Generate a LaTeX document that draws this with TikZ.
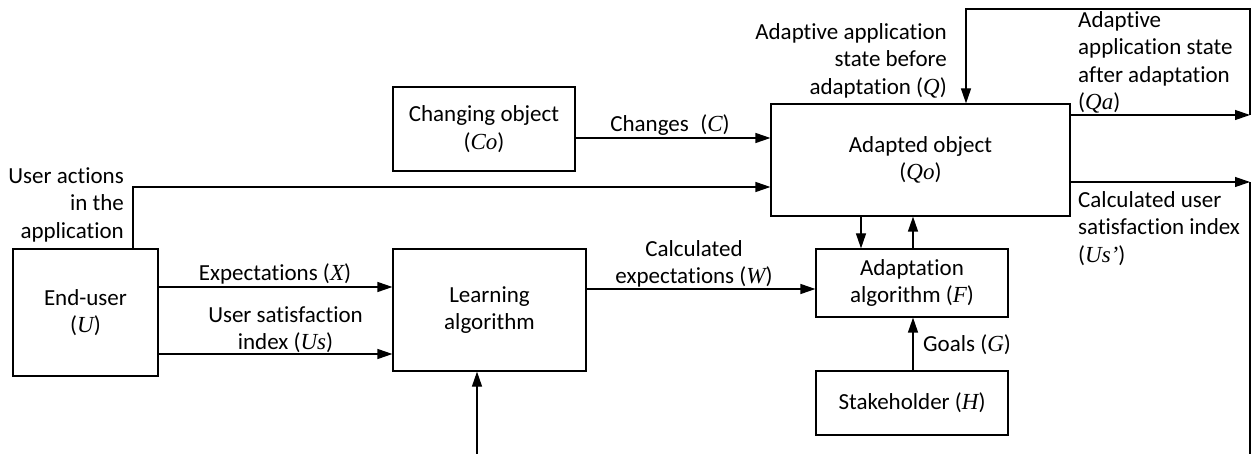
\documentclass[tikz,border=0pt]{standalone}
\usepackage{fontspec}
\setmainfont[Ligatures=NoCommon]{Carlito}
\newfontfamily\varfont{Liberation Serif}
\usetikzlibrary{arrows.meta}
% italic serif symbol for the model variables
\newcommand\mv[1]{{\varfont\itshape #1}}

\begin{document}
\begin{tikzpicture}[x=1pt,y=-1pt,
  lbl/.style={inner sep=0pt, font=\fontsize{23}{27.5}\selectfont},
  block/.style={draw, line width=1.2pt, inner sep=0pt, align=center,
                font=\fontsize{23}{27.5}\selectfont},
  flow/.style={line width=1.2pt, -{Triangle[length=15pt,width=10pt]}},
  wire/.style={line width=1.2pt}]

\useasboundingbox (0,0) rectangle (1253,454);

% blocks
\node[block, minimum width=145pt, minimum height=127pt] (eu)    at (85.5,312.5) {End-user\\(\mv{U})};
\node[block, minimum width=193pt, minimum height=122pt] (learn) at (489.5,310) {Learning\\algorithm};
\node[block, minimum width=182pt, minimum height=84pt]  (chg)   at (484,129)   {Changing object\\(\mv{Co})};
\node[block, minimum width=299pt, minimum height=112pt] (ado)   at (920.5,160) {Adapted object\\(\mv{Qo})};
\node[block, minimum width=192pt, minimum height=68pt]  (ada)   at (912,283)   {Adaptation\\algorithm (\mv{F})};
\node[block, minimum width=192pt, minimum height=64pt]  (stk)   at (912,403)   {Stakeholder (\mv{H})};

% helper points for bends and open ends
\coordinate (ua)     at (133,187);
\coordinate (ex)     at (0,287);
\coordinate (us)     at (0,354);
\coordinate (cw)     at (0,289);
\coordinate (cc)     at (0,138);
\coordinate (dn)     at (861,0);
\coordinate (up)     at (913,0);
\coordinate (qaEnd)  at (1250,115);
\coordinate (loopR)  at (1250,9);
\coordinate (loopL)  at (966,9);
\coordinate (usEnd)  at (1250,182);
\coordinate (usDown) at (1250,454);
\coordinate (lin)    at (477,454);

% connectors
\draw[flow] (eu.east |- ex) -- (learn.west |- ex);
\draw[flow] (eu.east |- us) -- (learn.west |- us);
\draw[flow] (learn.east |- cw) -- (ada.west |- cw);
\draw[flow] (chg.east |- cc) -- (ado.west |- cc);
\draw[flow] (eu.north -| ua) -- (ua) -- (ado.west |- ua);
\draw[flow] (ado.south -| dn) -- (ada.north -| dn);
\draw[flow] (ada.north -| up) -- (ado.south -| up);
\draw[flow] (stk.north -| up) -- (ada.south -| up);
\draw[flow] (ado.east |- qaEnd) -- (qaEnd);
\draw[flow] (qaEnd) -- (loopR) -- (loopL) -- (ado.north -| loopL);
\draw[flow] (ado.east |- usEnd) -- (usEnd);
\draw[wire] (usEnd) -- (usDown);
\draw[flow] (lin) -- (learn.south -| lin);

% labels
\node[lbl, anchor=north east, align=right] (qlbl)  at (947,23)  {Adaptive application\\state before\\adaptation (\mv{Q})};
\node[lbl, anchor=north west, align=left]  (qalbl) at (1078,11) {Adaptive\\application state\\after adaptation\\(\mv{Qa})};
\node[lbl, anchor=north west, align=left]  (uplbl) at (1078,191) {Calculated user\\satisfaction index\\(\mv{Us’})};
\node[lbl, anchor=north east, align=right] (ualbl) at (124,167) {User actions\\in the\\application};
\node[lbl, anchor=base]                    (xlbl)  at (275,281) {Expectations (\mv{X})};
\node[lbl, anchor=north, align=center]     (uslbl) at (285.5,306) {User satisfaction\\index (\mv{Us})};
\node[lbl, anchor=north, align=center]     (wlbl)  at (694,240) {Calculated\\expectations (\mv{W})};
\node[lbl, anchor=base]                    (clbl)  at (670,132) {Changes\enspace(\mv{C})};
\node[lbl, anchor=base west]               (glbl)  at (923,352) {Goals (\mv{G})};

\end{tikzpicture}
\end{document}
